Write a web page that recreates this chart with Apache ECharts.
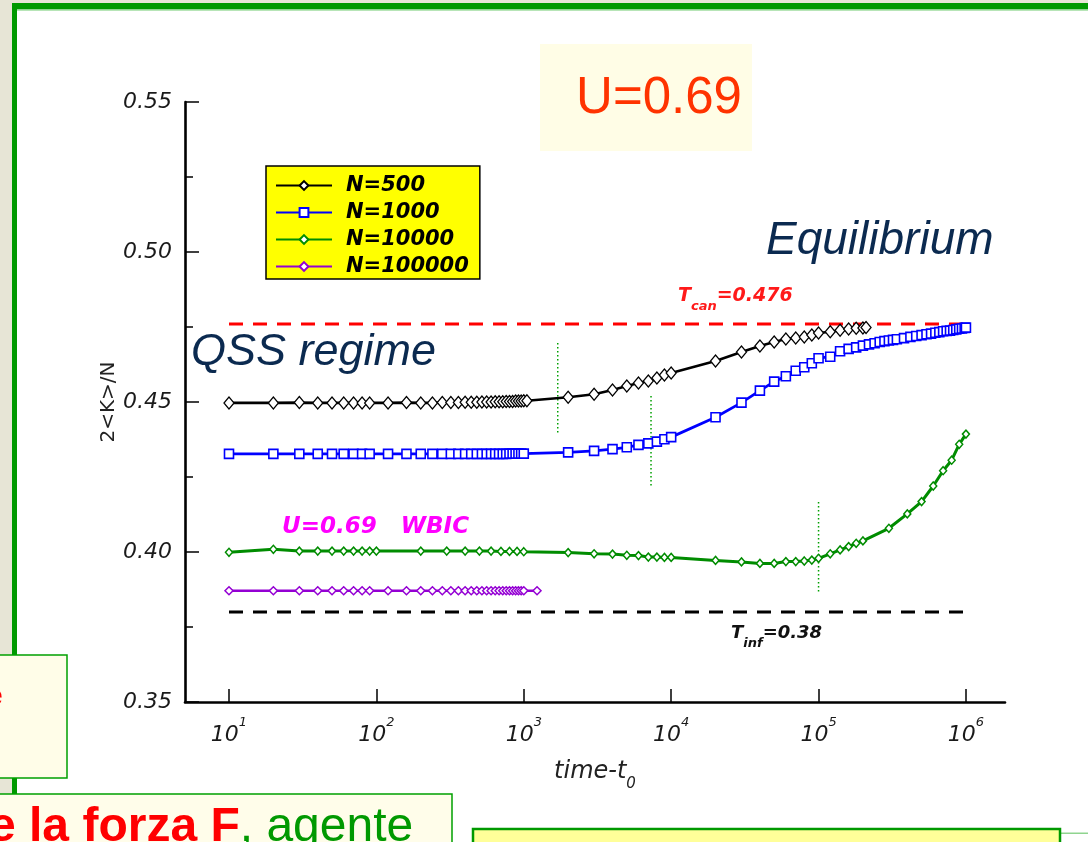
<!DOCTYPE html>
<html><head><meta charset="utf-8">
<script src="https://cdn.jsdelivr.net/npm/echarts@6/dist/echarts.min.js"></script>
<style>html,body{margin:0;padding:0;background:#fff;overflow:hidden}#c{width:1088px;height:842px;}</style>
</head><body><div id="c"></div>
<script>
// ---------- data (time-t0 and 2<K>/N) ----------
const xTickExponents = [1, 2, 3, 4, 5, 6];
const yMin = 0.35, yMax = 0.55, yStep = 0.05;

const t500 = [10,20,30,40,50,60,70,80,90,120,160,200,240,280,320,360,400,440,480,520,560,600,640,680,720,760,800,840,880,920,960,1000,1050,
  2000,3000,4000,5000,6000,7000,8000,9000,10000,20000,30000,40000,50000,60000,70000,80000,90000,100000,120000,140000,160000,180000,200000,210000];
const v500 = [0.4497,0.4497,0.4498,0.4497,0.4497,0.4497,0.4497,0.4497,0.4497,0.4497,0.4498,0.4497,0.4497,0.4498,0.4498,0.4498,0.4499,0.4499,0.4499,0.4500,0.4500,0.4500,0.4501,0.4501,0.4501,0.4502,0.4502,0.4502,0.4503,0.4503,0.4503,0.4504,0.4504,
  0.4516,0.4526,0.4540,0.4553,0.4563,0.4570,0.4580,0.4590,0.4597,0.4637,0.4667,0.4687,0.4700,0.4710,0.4713,0.4717,0.4723,0.4730,0.4734,0.4739,0.4743,0.4746,0.4747,0.4748];

const t1000 = [10,20,30,40,50,60,70,80,90,120,160,200,240,280,320,360,400,440,480,520,560,600,640,680,720,760,800,840,880,920,960,1000,
  2000,3000,4000,5000,6000,7000,8000,9000,10000,20000,30000,40000,50000,60000,70000,80000,90000,100000,
  120000,140000,160000,180000,200000,220000,240000,260000,280000,300000,320000,
  340000,380000,420000,460000,500000,540000,580000,620000,660000,700000,740000,780000,820000,860000,900000,940000,980000,1000000];
const v1000 = [0.4327,0.4327,0.4327,0.4327,0.4327,0.4327,0.4327,0.4327,0.4327,0.4327,0.4327,0.4327,0.4327,0.4327,0.4327,0.4327,0.4327,0.4327,0.4327,0.4327,0.4327,0.4327,0.4327,0.4327,0.4327,0.4327,0.4328,0.4328,0.4328,0.4328,0.4328,0.4328,
  0.4332,0.4337,0.4343,0.4349,0.4357,0.4362,0.4368,0.4376,0.4383,0.4449,0.4498,0.4538,0.4568,0.4586,0.4604,0.4616,0.4629,0.4646,
  0.4651,0.4669,0.4677,0.4682,0.4688,0.4692,0.4696,0.4700,0.4703,0.4705,0.4707,
  0.4709,0.4713,0.4717,0.4720,0.4723,0.4726,0.4728,0.4731,0.4733,0.4736,0.4737,0.4738,0.4740,0.4742,0.4744,0.4745,0.4747,0.4748];

const t10000 = [10,20,30,40,50,60,70,80,90,100,200,300,400,500,600,700,800,900,1000,
  2000,3000,4000,5000,6000,7000,8000,9000,10000,20000,30000,40000,50000,60000,70000,80000,90000,100000,
  120000,140000,160000,180000,200000,300000,400000,500000,600000,700000,800000,900000,1000000];
const v10000 = [0.3999,0.4009,0.4003,0.4003,0.4003,0.4003,0.4003,0.4003,0.4003,0.4003,0.4003,0.4003,0.4003,0.4003,0.4003,0.4002,0.4002,0.4002,0.4001,
  0.3998,0.3994,0.3993,0.3989,0.3988,0.3983,0.3983,0.3982,0.3982,0.3972,0.3967,0.3962,0.3962,0.3968,0.3968,0.3970,0.3973,0.3979,
  0.3994,0.4007,0.4018,0.4029,0.4037,0.4079,0.4127,0.4168,0.4220,0.4271,0.4306,0.4359,0.4393];

const t100000 = [10,20,30,40,50,60,70,80,90,120,160,200,240,280,320,360,400,440,480,520,560,600,640,680,720,760,800,840,880,920,960,1000,1230];
const v100000 = [0.3871,0.3871,0.3871,0.3871,0.3871,0.3871,0.3871,0.3871,0.3871,0.3871,0.3871,0.3871,0.3871,0.3871,0.3871,0.3871,0.3871,0.3871,0.3871,0.3871,0.3871,0.3871,0.3871,0.3871,0.3871,0.3871,0.3871,0.3871,0.3871,0.3871,0.3871,0.3871,0.3871];

const refT = [10, 1000000];
const tCan = 0.476;
const tInf = 0.38;
const dotT = [1700, 7300, 100000];
const dotTop = [0.4697, 0.4520, 0.4167];
const dotBottom = [0.4397, 0.4217, 0.3867];

const seriesNames = ['N=500', 'N=1000', 'N=10000', 'N=100000'];

// ---------- build ----------
const L = Math.log10;
const pts = (t, v) => t.map((x, i) => [L(x), v[i]]);
const DJ = 'DejaVu Sans';
const AR = '"Liberation Sans", Arial, sans-serif';

const series = [
  { name: 'N=100000', type: 'line', data: pts(t100000, v100000), symbol: 'diamond', symbolSize: [8, 8], showAllSymbol: true,
    lineStyle: { color: '#9400d3', width: 2.4 }, itemStyle: { color: '#fff', borderColor: '#9400d3', borderWidth: 1.5 }, z: 3 },
  { name: 'N=10000', type: 'line', data: pts(t10000, v10000), symbol: 'diamond', symbolSize: [7, 8], showAllSymbol: true,
    lineStyle: { color: '#008c00', width: 3 }, itemStyle: { color: '#fff', borderColor: '#008c00', borderWidth: 1.5 }, z: 4 },
  { name: 'N=1000', type: 'line', data: pts(t1000, v1000), symbol: 'rect', symbolSize: 9, showAllSymbol: true,
    lineStyle: { color: '#0000ff', width: 2.8 }, itemStyle: { color: '#fff', borderColor: '#0000ff', borderWidth: 1.6 }, z: 5 },
  { name: 'N=500', type: 'line', data: pts(t500, v500), symbol: 'diamond', symbolSize: [10, 12], showAllSymbol: true,
    lineStyle: { color: '#000', width: 2.6 }, itemStyle: { color: '#fff', borderColor: '#000', borderWidth: 1.3 }, z: 6 },
  { name: 'Tcan', type: 'line', data: refT.map(t => [L(t), tCan]), symbol: 'none', silent: true,
    lineStyle: { color: '#ff0000', width: 3, type: [14, 10] }, z: 2 },
  { name: 'Tinf', type: 'line', data: refT.map(t => [L(t), tInf]), symbol: 'none', silent: true,
    lineStyle: { color: '#000', width: 3, type: [14, 10] }, z: 2 }
];
dotT.forEach((t, i) => {
  series.push({ name: 'dot' + i, type: 'line', data: [[L(t), dotTop[i]], [L(t), dotBottom[i]]], symbol: 'none', silent: true,
    lineStyle: { color: '#00a000', width: 1.5, type: [1.5, 2.5] }, z: 2 });
});

const chart = echarts.init(document.getElementById('c'), null, { renderer: 'canvas' });
chart.setOption({
  animation: false,
  backgroundColor: '#ffffff',
  grid: { left: 185, right: 83, top: 102, bottom: 140, containLabel: false },
  legend: {
    data: seriesNames, orient: 'vertical', left: 266, top: 166,
    backgroundColor: '#ffff00', borderColor: '#000', borderWidth: 1.5, borderRadius: 0,
    padding: [9, 11, 2, 9], itemGap: 6, itemWidth: 56, itemHeight: 11,
    textStyle: { fontFamily: DJ, fontWeight: 'bold', fontStyle: 'italic', fontSize: 21, color: '#000', padding: [0, 0, 0, 9] },
    selectedMode: false
  },
  xAxis: {
    type: 'value', min: 0.7015, max: 6.265,
    name: '{m|time-t}{s|0}', nameLocation: 'middle', nameGap: 58, nameMoveOverlap: false,
    nameTextStyle: { rich: {
      m: { fontFamily: DJ, fontStyle: 'italic', fontSize: 24, color: '#222', lineHeight: 32, verticalAlign: 'top' },
      s: { fontFamily: DJ, fontStyle: 'italic', fontSize: 15, color: '#222', lineHeight: 32, verticalAlign: 'bottom' } } },
    axisLine: { lineStyle: { color: '#000', width: 2.6 } },
    axisTick: { inside: true, length: 13, lineStyle: { color: '#000', width: 1.5 }, customValues: xTickExponents },
    axisLabel: {
      customValues: xTickExponents, margin: 14,
      formatter: v => '{b|10}{s|' + Math.round(v) + '}',
      rich: {
        b: { fontFamily: DJ, fontStyle: 'italic', fontSize: 22, color: '#1a1a1a', lineHeight: 30, verticalAlign: 'bottom' },
        s: { fontFamily: DJ, fontStyle: 'italic', fontSize: 13, color: '#1a1a1a', lineHeight: 30, verticalAlign: 'top' }
      }
    },
    splitLine: { show: false }
  },
  yAxis: {
    type: 'value', min: yMin, max: yMax, interval: yStep,
    name: '2<K>/N', nameLocation: 'middle', nameGap: 66, nameRotate: 90, nameMoveOverlap: false,
    nameTextStyle: { fontFamily: DJ, fontSize: 20, color: '#222' },
    axisLine: { lineStyle: { color: '#000', width: 2.6 } },
    axisTick: { inside: true, length: 14, lineStyle: { color: '#000', width: 1.5 } },
    minorTick: { show: true, splitNumber: 2, length: 8, lineStyle: { color: '#000', width: 1.5 } },
    axisLabel: { margin: 13, formatter: v => v.toFixed(2), fontFamily: DJ, fontStyle: 'italic', fontSize: 22, color: '#1a1a1a' },
    splitLine: { show: false }
  },
  series: series,
  graphic: [
    // slide background strips and frame
    { type: 'rect', shape: { x: 0, y: 0, width: 12, height: 842 }, style: { fill: '#e7e5d6' }, z: -10, silent: true },
    { type: 'rect', shape: { x: 0, y: 0, width: 1088, height: 3 }, style: { fill: '#e7e5d6' }, z: -10, silent: true },
    { type: 'rect', shape: { x: 12, y: 3, width: 1076, height: 6.5 }, style: { fill: '#009900' }, z: -9, silent: true },
    { type: 'rect', shape: { x: 17, y: 9.5, width: 1071, height: 1.2 }, style: { fill: '#9fdc9f' }, z: -9, silent: true },
    { type: 'rect', shape: { x: 12, y: 3, width: 5, height: 652 }, style: { fill: '#009900' }, z: -9, silent: true },
    { type: 'rect', shape: { x: 12, y: 778, width: 5, height: 16 }, style: { fill: '#009900' }, z: -9, silent: true },
    // U=0.69 box
    { type: 'rect', shape: { x: 540, y: 44, width: 212, height: 107 }, style: { fill: '#fffde6' }, z: -8, silent: true },
    { type: 'text', x: 659, y: 99, style: { text: 'U=0.69', fontFamily: AR, fontSize: 51, fill: '#ff3300', align: 'center', verticalAlign: 'middle' }, z: 10 },
    // annotations
    { type: 'text', x: 191, y: 352, style: { text: 'QSS regime', fontFamily: AR, fontStyle: 'italic', fontSize: 45, fill: '#0b2a50', align: 'left', verticalAlign: 'middle' }, z: 10 },
    { type: 'text', x: 766, y: 241, style: { text: 'Equilibrium', fontFamily: AR, fontStyle: 'italic', fontSize: 46, fill: '#0b2a50', align: 'left', verticalAlign: 'middle' }, z: 10 },
    { type: 'text', x: 678, y: 300, style: { text: '{m|T}{s|can}{m|=0.476}', align: 'left', verticalAlign: 'middle',
      rich: { m: { fontFamily: DJ, fontWeight: 'bold', fontStyle: 'italic', fontSize: 19, fill: '#ff1a1a', lineHeight: 26, verticalAlign: 'top' },
              s: { fontFamily: DJ, fontWeight: 'bold', fontStyle: 'italic', fontSize: 13, fill: '#ff1a1a', lineHeight: 26, verticalAlign: 'bottom' } } }, z: 10 },
    { type: 'text', x: 731, y: 637, style: { text: '{m|T}{s|inf}{m|=0.38}', align: 'left', verticalAlign: 'middle',
      rich: { m: { fontFamily: DJ, fontWeight: 'bold', fontStyle: 'italic', fontSize: 18, fill: '#111', lineHeight: 26, verticalAlign: 'top' },
              s: { fontFamily: DJ, fontWeight: 'bold', fontStyle: 'italic', fontSize: 13, fill: '#111', lineHeight: 26, verticalAlign: 'bottom' } } }, z: 10 },
    { type: 'text', x: 282, y: 527, style: { text: 'U=0.69   WBIC', fontFamily: DJ, fontWeight: 'bold', fontStyle: 'italic', fontSize: 23, fill: '#ff00ff', align: 'left', verticalAlign: 'middle' }, z: 10 },
    // bottom slide boxes
    { type: 'rect', shape: { x: -2, y: 655, width: 69, height: 123 }, style: { fill: '#fffde8', stroke: '#00a000', lineWidth: 1.5 }, z: -5, silent: true },
    { type: 'text', x: -14, y: 697, style: { text: 'e', fontFamily: AR, fontWeight: 'bold', fontSize: 30, fill: '#ff0000', align: 'left', verticalAlign: 'middle' }, z: -4 },
    { type: 'rect', shape: { x: -2, y: 794, width: 454, height: 60 }, style: { fill: '#fffdea', stroke: '#00a000', lineWidth: 1.5 }, z: -5, silent: true },
    { type: 'text', x: -11, y: 852, style: { text: '{r|e la forza F}{g|, agente}', align: 'left', verticalAlign: 'bottom',
      rich: { r: { fontFamily: AR, fontWeight: 'bold', fontSize: 48, fill: '#ff0000' },
              g: { fontFamily: AR, fontSize: 48, fill: '#009900' } } }, z: -4 },
    { type: 'rect', shape: { x: 1060, y: 832.5, width: 30, height: 1.5 }, style: { fill: '#8fd48f' }, z: -5, silent: true },
    { type: 'rect', shape: { x: 473, y: 829, width: 587, height: 30 }, style: { fill: '#ffff99', stroke: '#009900', lineWidth: 2.5 }, z: -5, silent: true }
  ]
});
</script>
</body></html>
